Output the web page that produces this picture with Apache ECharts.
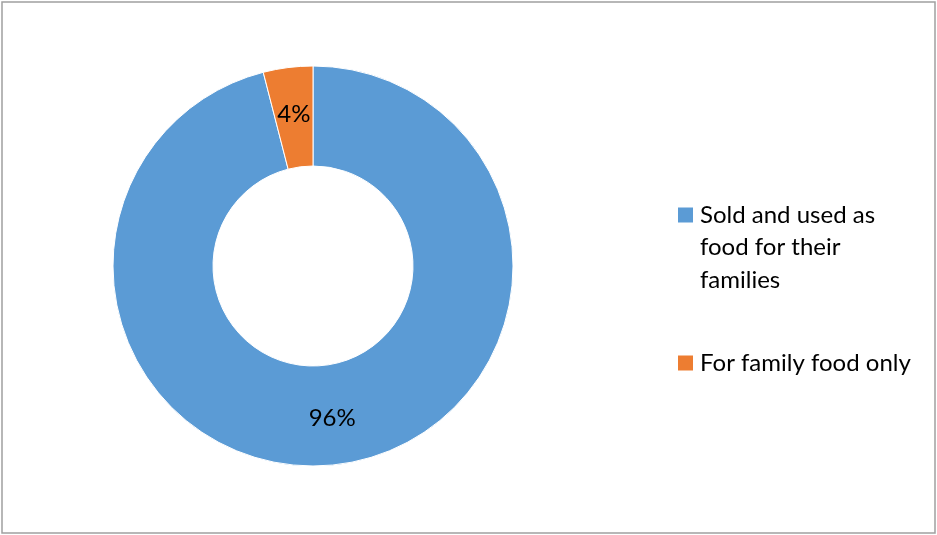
<!DOCTYPE html>
<html>
<head>
<meta charset="utf-8">
<script src="https://cdn.jsdelivr.net/npm/echarts@6/dist/echarts.min.js"></script>
<style>
  html, body { margin: 0; padding: 0; background: #fff; }
  #chart { width: 937px; height: 535px; }
</style>
</head>
<body>
<div id="chart"></div>
<script>
// Share of produce use
const categories = ['Sold and used as\nfood for their\nfamilies', 'For family food only'];
const shares = [96, 4];
const sliceColors = ['#5B9BD5', '#ED7D31'];

const FONT = 'Lato';
const chart = echarts.init(document.getElementById('chart'));

// Legend entries: a coloured square on the first line, continuation lines indented
function legendText(name) {
  const lines = name.split('\n');
  return lines.map((l, i) => (i === 0 ? '{sq|}{gap|}' : '{ind|}') + '{t|' + l + '}').join('\n');
}

chart.setOption({
  animation: false,
  graphic: [{
    type: 'rect',
    shape: { x: 2, y: 2, width: 933, height: 531 },
    style: { fill: 'none', stroke: '#a0a0a0', lineWidth: 1.5 },
    silent: true
  }],
  legend: {
    orient: 'vertical',
    left: 673,
    top: 203,
    padding: 0,
    icon: 'none',
    itemWidth: 0,
    itemHeight: 0,
    itemGap: 59,
    selectedMode: false,
    formatter: legendText,
    data: categories.map((c, i) => ({
      name: c,
      textStyle: {
        rich: {
          sq: { width: 15, height: 15, backgroundColor: sliceColors[i] },
          gap: { width: 7 },
          ind: { width: 22 },
          t: { fontFamily: FONT, fontSize: 24, color: '#000', lineHeight: 32.5 }
        }
      }
    }))
  },
  series: [{
    type: 'pie',
    center: [313, 266],
    radius: [100, 200],
    startAngle: 90,
    clockwise: true,
    itemStyle: { borderColor: '#fff', borderWidth: 1 },
    label: {
      show: true,
      position: 'inside',
      formatter: '{c}%',
      fontFamily: FONT,
      fontSize: 24,
      color: '#000'
    },
    labelLine: { show: false },
    emphasis: { disabled: true },
    data: categories.map((c, i) => ({
      name: c,
      value: shares[i],
      itemStyle: { color: sliceColors[i] }
    }))
  }]
});
</script>
</body>
</html>
